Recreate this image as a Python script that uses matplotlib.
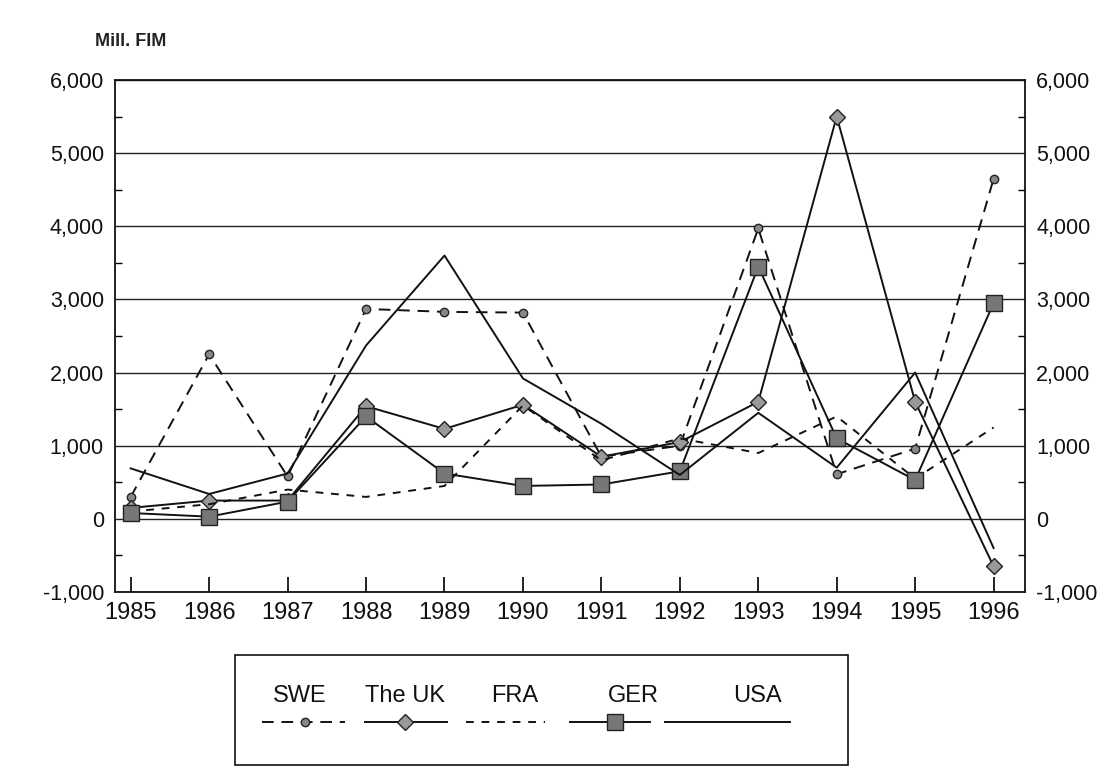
import numpy as np
import matplotlib
matplotlib.use("Agg")
import matplotlib.pyplot as plt
from matplotlib.ticker import MultipleLocator, FuncFormatter
from matplotlib.lines import Line2D
from matplotlib.patches import Rectangle

plt.rcParams['font.family'] = ['Liberation Sans', 'DejaVu Sans']

# data, Mill. FIM
years = [1985, 1986, 1987, 1988, 1989, 1990, 1991, 1992, 1993, 1994, 1995, 1996]
swe = [300, 2250, 580, 2870, 2830, 2820, 850, 1000, 3970, 610, 960, 4650]
uk = [150, 250, 250, 1540, 1230, 1560, 850, 1050, 1600, 5500, 1600, -650]
fra = [100, 200, 400, 300, 450, 1550, 800, 1100, 900, 1400, 550, 1250]
ger = [80, 30, 236, 1400, 620, 450, 470, 650, 3450, 1100, 530, 2950]
usa = [690, 340, 620, 2370, 3600, 1920, 1300, 600, 1450, 700, 2000, -400]

series_names = ['SWE', 'The UK', 'FRA', 'GER', 'USA']
series_vals = [swe, uk, fra, ger, usa]

# styles
styles = {
    'SWE': dict(color='#111', lw=1.4, ls=(0, (6, 4)), marker='o', ms=6,
                mfc='#888', mec='#222', mew=1.0),
    'The UK': dict(color='#111', lw=1.4, ls='-', marker='D', ms=8,
                   mfc='#999', mec='#222', mew=1.0),
    'FRA': dict(color='#111', lw=1.4, ls=(0, (4, 4)), marker=None),
    'GER': dict(color='#111', lw=1.4, ls='-', marker='s', ms=11,
                mfc='#777', mec='#222', mew=1.0),
    'USA': dict(color='#111', lw=1.4, ls='-', marker=None),
}

W, H = 1118, 776
fig = plt.figure(figsize=(W / 100, H / 100), dpi=100)
fig.patch.set_facecolor('white')

ax = fig.add_axes([115 / W, 1 - 592 / H, (1025 - 115) / W, (592 - 80) / H])
ax.set_xlim(1984.8, 1996.4)
ax.set_ylim(-1000, 6000)

for name, vals in zip(series_names, series_vals):
    ax.plot(years, vals, zorder=3, **styles[name])

# gridlines
for v in range(-1000, 6001, 1000):
    ax.axhline(v, color='#222', lw=1.0, zorder=1)

ax.yaxis.set_major_locator(MultipleLocator(1000))
ax.yaxis.set_minor_locator(MultipleLocator(500))
fmt = FuncFormatter(lambda v, p: f"{int(v):,}")
ax.yaxis.set_major_formatter(fmt)
ax.tick_params(axis='y', which='major', length=0, labelsize=15.5, pad=8,
               right=True, labelright=True, labelcolor='#111')
ax.tick_params(axis='y', which='minor', length=5, direction='in', right=True, width=1)

ax.set_xticks(years)
ax.set_xticklabels([str(y) for y in years])
ax.tick_params(axis='x', length=11, direction='in', width=1.2, labelsize=17,
               pad=7, labelcolor='#111')
for sp in ax.spines.values():
    sp.set_linewidth(1.3)
    sp.set_color('#111')

fig.text(95 / W, 1 - 42 / H, 'Mill. FIM', fontsize=13, fontweight='bold',
         color='#222', va='center', ha='left')

# legend box, text above sample line
lax = fig.add_axes([0, 0, 1, 1], facecolor='none')
lax.set_xlim(0, W)
lax.set_ylim(H, 0)
lax.axis('off')
lax.add_patch(Rectangle((235, 655), 613, 110, fill=False, ec='#111', lw=1.2))
text_x = [300, 405, 515, 633, 757]
line_spans = [(262, 345, 305), (365, 447, 405), (466, 545, None),
              (570, 650, 615), (665, 790, None)]
for name, tx, (x0, x1, mx) in zip(series_names, text_x, line_spans):
    lax.text(tx, 696, name, fontsize=17, ha='center', va='center', color='#111')
    st = dict(styles[name])
    marker = st.pop('marker')
    ms = st.pop('ms', None)
    mfc = st.pop('mfc', None)
    mec = st.pop('mec', None)
    mew = st.pop('mew', None)
    lax.add_line(Line2D([x0, x1], [722, 722], **st))
    if marker is not None:
        lax.plot([mx], [722], marker=marker, ms=ms, mfc=mfc, mec=mec, mew=mew,
                 ls='none')

fig.savefig('out.png', dpi=100)
